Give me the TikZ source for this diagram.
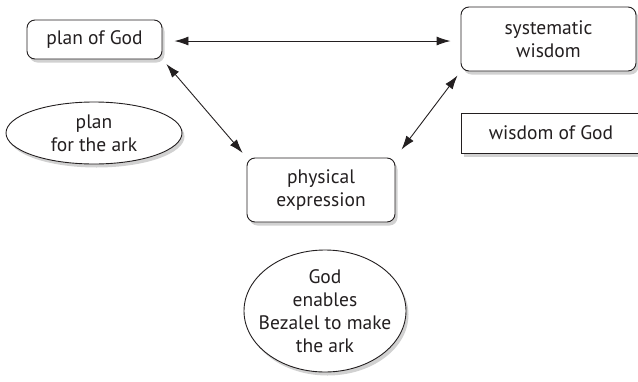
\documentclass[tikz,border=0pt]{standalone}
\usepackage{fontspec}
\setmainfont{PT Sans}
\usetikzlibrary{shadows,arrows.meta,shapes.geometric}
\definecolor{ink}{HTML}{231F20}
\begin{document}
\begin{tikzpicture}[x=1pt,y=-1pt,
  every node/.style={font=\fontsize{19.5}{23}\selectfont,text=ink,align=center,inner sep=0pt},
  sh/.style={drop shadow={shadow xshift=2.5pt,shadow yshift=-3.5pt,opacity=0.18,fill=black}},
  rbox/.style={draw=ink,line width=0.9pt,rounded corners=8pt,fill=white,sh},
  sbox/.style={draw=ink,line width=0.9pt,fill=white,sh},
  oval/.style={draw=ink,line width=0.9pt,ellipse,fill=white,sh},
  link/.style={draw=ink,line width=0.9pt,{Latex[length=14pt,width=9pt]}-{Latex[length=14pt,width=9pt]}}
]
\useasboundingbox (0,0) rectangle (638,381);
\node[rbox,minimum width=135pt,minimum height=39pt] (plan) at (94.5,39.5) {plan of God};
\node[rbox,minimum width=175pt,minimum height=64pt] (sys) at (548.5,39) {systematic\\wisdom};
\node[sbox,minimum width=200pt,minimum height=40pt,anchor=west] (wis) at (461,133) {};
\node (wist) at (551,133) {wisdom of God};
\node[oval,minimum width=176pt,minimum height=62pt] (pfa) at (94,133) {};
\node (pfat) at (94,133) {plan\\for the ark};
\node[rbox,minimum width=148pt,minimum height=64pt] (phys) at (321,190) {physical\\expression};
\node[oval,minimum width=162pt,minimum height=122pt] (god) at (325,311) {};
\node (godt) at (325,311) {God\\enables\\Bezalel to make\\the ark};
\draw[link,shorten <=12pt,shorten >=10pt] (plan.east |- 0,41) -- (sys.west |- 0,41);
\draw[link,shorten <=6pt,shorten >=6pt] (plan.south east) -- (phys.north west);
\draw[link,shorten <=5pt,shorten >=10pt] (sys.south west) -- (phys.north east);
\end{tikzpicture}
\end{document}
